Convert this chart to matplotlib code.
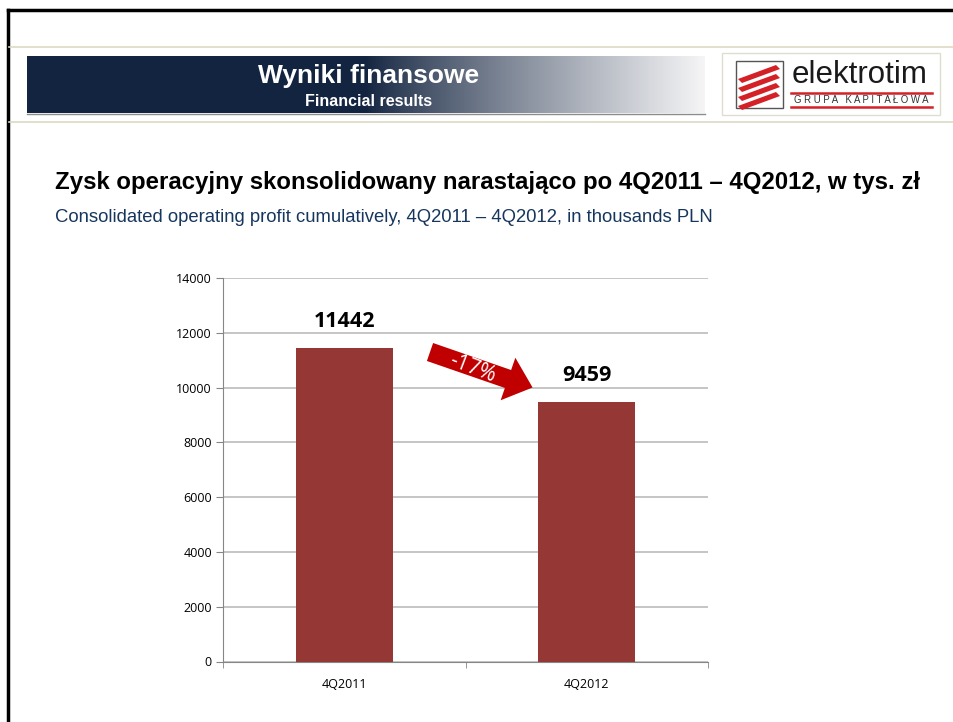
import matplotlib
matplotlib.use("Agg")
import matplotlib.pyplot as plt
import numpy as np
from matplotlib.patches import Rectangle, FancyArrow, Polygon

categories = ["4Q2011", "4Q2012"]
values = [11442, 9459]
yticks = [0, 2000, 4000, 6000, 8000, 10000, 12000, 14000]
change_label = "-17%"

W, H = 954, 722
fig = plt.figure(figsize=(W / 100, H / 100), dpi=100)
fig.patch.set_facecolor("white")

# overlay in pixel coordinates
ov = fig.add_axes([0, 0, 1, 1])
ov.set_xlim(0, W)
ov.set_ylim(H, 0)
ov.axis("off")
ov.set_zorder(0)

# frame lines
ov.plot([8, W], [10, 10], color="black", lw=2.5)
ov.plot([8, 8], [10, H], color="black", lw=2.5)
ov.plot([9, W], [47, 47], color="#ddd9c3", lw=1.2)
ov.plot([9, W], [122, 122], color="#ddd9c3", lw=1.2)

# gradient banner
x0, x1, y0, y1 = 27, 705, 56, 113
n = 400
t = np.linspace(0, 1, n)
start = np.array([19, 36, 64]) / 255
end = np.array([245, 245, 246]) / 255
frac = np.clip((t - 0.50) / 0.50, 0, 1) ** 0.85
cols = start[None, :] * (1 - frac[:, None]) + end[None, :] * frac[:, None]
img = np.tile(cols[None, :, :], (2, 1, 1))
ov.imshow(img, extent=[x0, x1, y1, y0], aspect="auto", zorder=1)
ov.plot([x0, x1], [y1 + 1, y1 + 1], color="#8c8c8c", lw=1, zorder=1)
ov.text(369, 76, "Wyniki finansowe", color="white", fontsize=19, fontweight="bold",
        family="Liberation Sans", ha="center", va="center", zorder=2)
ov.text(369, 102, "Financial results", color="white", fontsize=11.5, fontweight="bold",
        family="Liberation Sans", ha="center", va="center", zorder=2)

# logo
ov.add_patch(Rectangle((722, 53), 218, 62, facecolor="white", edgecolor="#e0ddd0", lw=1, zorder=1))
ov.add_patch(Rectangle((736, 61), 47, 47, facecolor="white", edgecolor="#555555", lw=1, zorder=2))
for k in range(4):
    yy = 69 + k * 9
    poly = Polygon([[738, yy + 10], [776, yy - 4], [780, yy], [742, yy + 14]],
                   closed=True, facecolor="#d42027", edgecolor="none", zorder=3)
    ov.add_patch(poly)
ov.text(792, 75, "elektrotim", fontsize=22.5, family="Liberation Sans", color="#1a1a1a",
        ha="left", va="center", zorder=3)
ov.plot([791, 932], [93, 93], color="#d42027", lw=1.8, zorder=3)
ov.plot([791, 932], [107, 107], color="#d42027", lw=1.8, zorder=3)
ov.text(861, 100, "G R U P A   K A P I T A Ł O W A", fontsize=6.9, family="Liberation Sans",
        color="#333333", ha="center", va="center", zorder=3)

# titles
ov.text(55, 182, "Zysk operacyjny skonsolidowany narastająco po 4Q2011 – 4Q2012, w tys. zł",
        fontsize=17.25, fontweight="bold", family="Liberation Sans", color="black",
        ha="left", va="center")
ov.text(55, 218, "Consolidated operating profit cumulatively, 4Q2011 – 4Q2012, in thousands PLN",
        fontsize=13.3, family="Liberation Sans", color="#17365d", ha="left", va="center")

# chart
ax = fig.add_axes([223 / W, 1 - 661.5 / H, 485 / W, 383.5 / H])
ax.set_zorder(1)
ax.patch.set_alpha(0)
x = np.arange(len(categories))
ax.bar(x, values, width=0.4, color="#953735", zorder=3)
ax.set_xlim(-0.5, len(categories) - 0.5)
ax.set_ylim(0, 14000)
ax.set_yticks(yticks)
ax.set_yticklabels([str(v) for v in yticks], fontsize=9, family="Open Sans")
ax.set_xticks(x)
ax.set_xticklabels(categories, fontsize=9, family="Open Sans")
ax.set_xticks([-0.5, 0.5, 1.5], minor=True)
ax.tick_params(axis="x", which="major", length=0, pad=12)
ax.tick_params(axis="x", which="minor", length=4, color="#868686", direction="out")
ax.tick_params(axis="y", length=5, color="#868686", pad=3)
ax.grid(axis="y", color="#c0c0c0", lw=1.3, zorder=0)
for s in ["top", "right"]:
    ax.spines[s].set_visible(False)
for s in ["left", "bottom"]:
    ax.spines[s].set_color("#868686")
for xi, v in zip(x, values):
    ax.text(xi, v + 600, str(v), ha="center", va="bottom", fontsize=15.5,
            fontweight="bold", family="Open Sans")

# arrow annotation
ov2 = fig.add_axes([0, 0, 1, 1])
ov2.set_xlim(0, W)
ov2.set_ylim(H, 0)
ov2.axis("off")
ov2.set_zorder(2)
ov2.patch.set_alpha(0)
arr = FancyArrow(430, 352, 78, 27, width=19, head_width=45, head_length=26,
                 length_includes_head=False, facecolor="#c00000", edgecolor="none")
ov2.add_patch(arr)
ov2.text(472, 368, change_label, color="white", fontsize=15, family="Open Sans",
         rotation=-21, ha="center", va="center", rotation_mode="anchor")

fig.savefig("out.png", dpi=100)
